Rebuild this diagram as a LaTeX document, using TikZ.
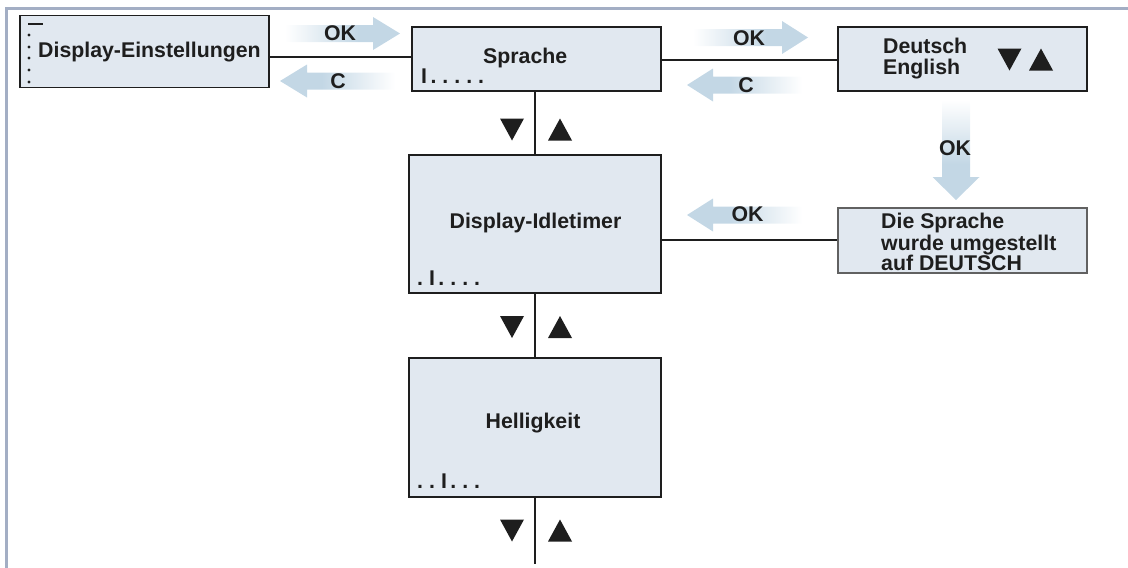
\documentclass[tikz,border=0pt]{standalone}
\usepackage{fontspec}
\setmainfont{Liberation Sans}
\definecolor{boxfill}{HTML}{E1E8F0}
\definecolor{frameblue}{HTML}{A3AEC4}
\definecolor{arrowblue}{HTML}{C3D7E5}
\definecolor{ink}{HTML}{1E1E1E}
% soft arrow body: white at the tail, blue towards the head
\pgfdeclarehorizontalshading{fadein}{100bp}{color(0bp)=(white); color(25bp)=(white); color(57bp)=(arrowblue); color(100bp)=(arrowblue)}
% horizontal arrow: tail x, head base x, tip x, centre y, half shaft, half head
\newcommand{\hfade}[7][]{%
  \path[shading=fadein,#1] (#2,#5-#6) -- (#3,#5-#6) -- (#3,#5-#7) -- (#4,#5)
    -- (#3,#5+#7) -- (#3,#5+#6) -- (#2,#5+#6) -- cycle;}
% vertical arrow: tail y, head base y, tip y, centre x, half shaft, half head
\newcommand{\vfade}[7][]{%
  \path[shading=fadein,#1] (#5-#6,#2) -- (#5-#6,#3) -- (#5-#7,#3) -- (#5,#4)
    -- (#5+#7,#3) -- (#5+#6,#3) -- (#5+#6,#2) -- cycle;}
\begin{document}
\begin{tikzpicture}[x=1pt,y=-1pt,
  screen/.style={draw=ink,line width=1.4pt,fill=boxfill,rectangle,inner sep=0pt},
  txt/.style={inner sep=0pt,font=\fontsize{21.3}{21}\selectfont\bfseries,text=ink},
  link/.style={draw=ink,line width=2.8pt},
  pics/tridown/.style={code={\fill[ink] (-12,-11) -- (12,-11) -- (0,11) -- cycle;}},
  pics/triup/.style={code={\fill[ink] (-12,11) -- (12,11) -- (0,-11) -- cycle;}}]
\useasboundingbox (0,0) rectangle (1128,568);

% frame
\draw[frameblue,line width=3pt] (6.5,568) -- (6.5,8.5) -- (1128,8.5);

% menu screens
\node[screen,minimum width=249pt,minimum height=72pt] (A) at (144.5,51.5) {};
\node[screen,minimum width=249pt,minimum height=64pt] (B) at (536.5,59) {};
\node[screen,minimum width=249pt,minimum height=64pt] (C) at (962.5,59) {};
\node[screen,minimum width=252pt,minimum height=138pt] (D) at (535,224) {};
\node[screen,draw=ink!70,minimum width=249pt,minimum height=65pt] (E) at (962.5,240.5) {};
\node[screen,minimum width=252pt,minimum height=139pt] (F) at (535,427.5) {};
\coordinate (Fend) at (535,564);

% connectors
\draw[link] (A.east |- 0,57) -- (B.west |- 0,57);
\draw[link] (B.east |- 0,60) -- (C.west |- 0,60);
\draw[link] (D.north) -- (D.north |- B.south);
\draw[link] (D.east |- 0,240) -- (E.west |- 0,240);
\draw[link] (D.south) -- (F.north);
\draw[link] (F.south) -- (Fend);

% texts
\node[txt,anchor=base west] (tA) at (38,57) {Display-Einstellungen};
\node[txt,anchor=base west] (tB) at (483,63) {Sprache};
\node[txt,anchor=base west] (tC1) at (883,53) {Deutsch};
\node[txt,anchor=base west] (tC2) at (883,74) {English};
\node[txt,anchor=base] (tD) at (535.5,228) {Display-Idletimer};
\node[txt,anchor=base west] (tE1) at (881,228) {Die Sprache};
\node[txt,anchor=base west] (tE2) at (881,250) {wurde umgestellt};
\node[txt,anchor=base west] (tE3) at (881,270) {auf DEUTSCH};
\node[txt,anchor=base] (tF) at (533,428) {Helligkeit};

% position markers
\node[txt,anchor=base west] (pB) at (421,83) {I\kern3.4pt.\kern6pt.\kern6pt.\kern6pt.\kern6pt.};
\node[txt,anchor=base west] (pD) at (417,285) {.\kern6pt I\kern3.4pt.\kern6pt.\kern6pt.\kern6pt.};
\node[txt,anchor=base west] (pF) at (417,488) {.\kern6pt.\kern6pt I\kern3.4pt.\kern6pt.\kern6pt.};

% scroll marks in the first screen
\draw[ink,line width=2.6pt] (28,24) -- (43,24);
\foreach \yy in {35,47,58,70,82} \fill[ink] (29,\yy) circle (1.6pt);

% up / down keys
\pic at (1009.5,59.5) {tridown};
\pic at (1041,59.5) {triup};
\foreach \yy in {129.5,327,530.5} {
  \pic at (512,\yy) {tridown};
  \pic at (560,\yy) {triup};
}

% key arrows
\hfade{285}{373}{400}{33.5}{8.5}{16.5}
\hfade[shading angle=180]{395}{307}{280}{81}{8.5}{16.5}
\hfade{693}{782}{808}{37.5}{8.5}{16.5}
\hfade[shading angle=180]{802}{713}{687}{85}{8.5}{16.5}
\vfade[shading angle=-90]{100}{177}{200}{956}{14}{23.5}
\hfade[shading angle=180]{802}{713}{687}{215}{8.5}{16.5}

\node[txt] (ok1) at (340,33.5) {OK};
\node[txt] (c1) at (338,81.5) {C};
\node[txt] (ok2) at (749,38) {OK};
\node[txt] (c2) at (746,85) {C};
\node[txt] (ok3) at (955,148) {OK};
\node[txt] (ok4) at (747.5,214.5) {OK};
\end{tikzpicture}
\end{document}
